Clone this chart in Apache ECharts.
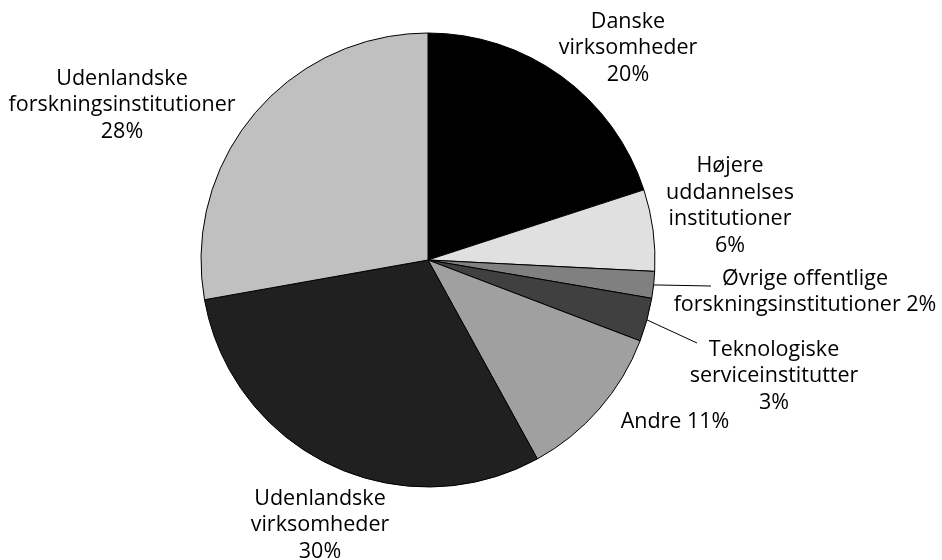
<!DOCTYPE html>
<html><head><meta charset="utf-8">
<script src="https://cdn.jsdelivr.net/npm/echarts@6/dist/echarts.min.js"></script>
<style>html,body{margin:0;padding:0;background:#fff}#c{width:942px;height:560px}</style>
</head><body><div id="c"></div>
<script>
const names = ['Danske\nvirksomheder', 'Højere\nuddannelses\ninstitutioner', 'Øvrige offentlige\nforskningsinstitutioner', 'Teknologiske\nserviceinstitutter', 'Andre', 'Udenlandske\nvirksomheder', 'Udenlandske\nforskningsinstitutioner'];
const values = [20.0, 5.8, 1.9, 3.1, 11.2, 30.2, 27.8];
const pctSep = ['\n', '\n', ' ', '\n', ' ', '\n', '\n'];
const colors = ['#000000', '#e0e0e0', '#808080', '#404040', '#a0a0a0', '#202020', '#c0c0c0'];
const showLine = [false, false, true, true, false, false, false];
// label centre positions and leader-line ends (layout only)
const labelPos = [[628,48],[730,206],[805,292],[774,376],[675,422],[320,525],[122,105]];
const lineEnd = [null, null, [711,286], [697,343], null, null, null];

const chart = echarts.init(document.getElementById('c'), null, {renderer:'canvas'});
chart.setOption({
  animation:false,
  series:[{
    type:'pie',
    center:[428,260],
    radius:227,
    startAngle:90,
    clockwise:true,
    itemStyle:{borderColor:'#000',borderWidth:1},
    label:{
      show:true, position:'outside', color:'#000',
      fontFamily:'Open Sans', fontSize:21.5, lineHeight:26.5, align:'center',
      width:320, overflow:'none',
      formatter:p=>p.name + pctSep[p.dataIndex] + Math.round(p.value) + '%'
    },
    labelLine:{show:false, lineStyle:{color:'#000',width:1}, length:10, length2:10},
    labelLayout:function(p){
      const i = p.dataIndex, pos = labelPos[i];
      const r = {x:pos[0], y:pos[1], align:'center', verticalAlign:'middle', moveOverlap:null, hideOverlap:false};
      if (lineEnd[i] && p.labelLinePoints) r.labelLinePoints = [p.labelLinePoints[0], lineEnd[i]];
      return r;
    },
    data:names.map((n,i)=>({name:n,value:values[i],itemStyle:{color:colors[i]},labelLine:{show:showLine[i]}}))
  }]
});
</script></body></html>
